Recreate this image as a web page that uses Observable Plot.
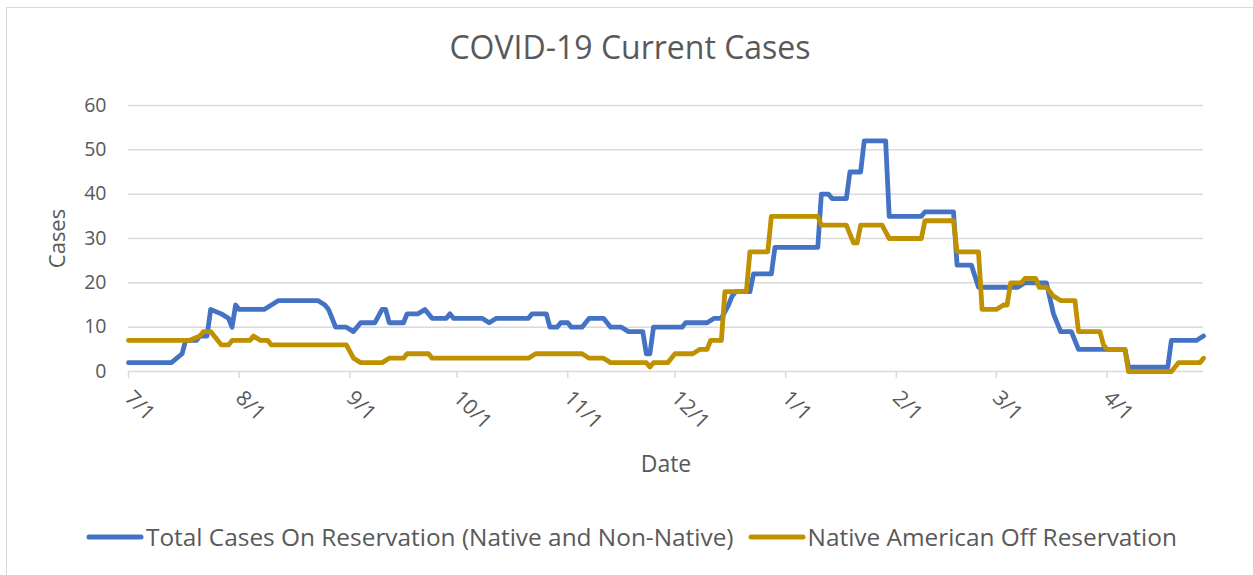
<!DOCTYPE html>
<html>
<head>
<meta charset="utf-8">
<script src="https://cdn.jsdelivr.net/npm/d3@7"></script>
<script src="https://cdn.jsdelivr.net/npm/@observablehq/plot@0.6"></script>
<style>
  body { margin: 0; background: #fff; font-family: "Open Sans", sans-serif; }
  #chart { position: relative; width: 1253px; height: 575px; overflow: hidden; background: #fff; }
  #frame { position: absolute; left: 6px; top: 7px; width: 1280px; height: 600px; border: 1.5px solid #d9d9d9; box-sizing: border-box; }
  #title { position: absolute; top: 31px; left: 0; width: 1260px; text-align: center; font-size: 32px; color: #595959; line-height: 1; }
  #plot { position: absolute; left: 0; top: 0; }
  #legend { position: absolute; top: 525px; left: 86px; display: flex; align-items: center; font-size: 24.4px; color: #595959; white-space: nowrap; line-height: 1; }
  #legend .item { display: flex; align-items: center; }
  #legend svg { margin-right: 2px; }
  #legend .gap { width: 14px; }
</style>
</head>
<body>
<div id="chart">
  <div id="frame"></div>
  <div id="plot"></div>
  <div id="title">COVID-19 Current Cases</div>
  <div id="legend"></div>
</div>
<script>
// ---- Data ----
const seriesNames = ["Total Cases On Reservation (Native and Non-Native)", "Native American Off Reservation"];
const seriesColors = ["#4472C4", "#BF9000"];

const onResDates = [
  "2020-07-01","2020-07-13","2020-07-16","2020-07-17","2020-07-20","2020-07-21","2020-07-23","2020-07-24",
  "2020-07-27","2020-07-29","2020-07-30","2020-07-31","2020-08-01","2020-08-08","2020-08-10","2020-08-12",
  "2020-08-23","2020-08-25","2020-08-26","2020-08-28","2020-08-31","2020-09-02","2020-09-04","2020-09-08",
  "2020-09-10","2020-09-11","2020-09-12","2020-09-16","2020-09-17","2020-09-20","2020-09-22","2020-09-24",
  "2020-09-28","2020-09-29","2020-09-30","2020-10-08","2020-10-10","2020-10-12","2020-10-21","2020-10-22",
  "2020-10-26","2020-10-27","2020-10-29","2020-10-30","2020-11-01","2020-11-02","2020-11-05","2020-11-07",
  "2020-11-11","2020-11-13","2020-11-16","2020-11-18","2020-11-22","2020-11-23","2020-11-24","2020-11-25",
  "2020-12-03","2020-12-04","2020-12-10","2020-12-12","2020-12-14","2020-12-16","2020-12-17","2020-12-18",
  "2020-12-22","2020-12-23","2020-12-28","2020-12-29","2021-01-10","2021-01-11","2021-01-13","2021-01-14",
  "2021-01-18","2021-01-19","2021-01-22","2021-01-23","2021-01-29","2021-01-30","2021-02-08","2021-02-09",
  "2021-02-17","2021-02-18","2021-02-22","2021-02-24","2021-03-07","2021-03-09","2021-03-15","2021-03-17",
  "2021-03-19","2021-03-22","2021-03-24","2021-04-06","2021-04-07","2021-04-18","2021-04-19","2021-04-26",
  "2021-04-28"
];
const onResValues = [
  2,2,4,7,7,8,8,14,
  13,12,10,15,14,14,15,16,
  16,15,14,10,10,9,11,11,
  14,14,11,11,13,13,14,12,
  12,13,12,12,11,12,12,13,
  13,10,10,11,11,10,10,12,
  12,10,10,9,9,4,4,10,
  10,11,11,12,12,15,17,18,
  18,22,22,28,28,40,40,39,
  39,45,45,52,52,35,35,36,
  36,24,24,19,19,20,20,13,
  9,9,5,5,1,1,7,7,
  8
];

const offResDates = [
  "2020-07-01","2020-07-18","2020-07-21","2020-07-22","2020-07-24","2020-07-27","2020-07-29","2020-07-30",
  "2020-08-04","2020-08-05","2020-08-07","2020-08-09","2020-08-10","2020-08-31","2020-09-02","2020-09-04",
  "2020-09-10","2020-09-12","2020-09-16","2020-09-17","2020-09-23","2020-09-24","2020-10-21","2020-10-23",
  "2020-11-05","2020-11-07","2020-11-11","2020-11-13","2020-11-23","2020-11-24","2020-11-25","2020-11-29",
  "2020-12-01","2020-12-06","2020-12-08","2020-12-10","2020-12-11","2020-12-14","2020-12-15","2020-12-21",
  "2020-12-22","2020-12-27","2020-12-28","2021-01-10","2021-01-11","2021-01-18","2021-01-20","2021-01-21",
  "2021-01-22","2021-01-28","2021-01-30","2021-02-08","2021-02-09","2021-02-17","2021-02-18","2021-02-24",
  "2021-02-25","2021-03-01","2021-03-03","2021-03-04","2021-03-05","2021-03-08","2021-03-09","2021-03-12",
  "2021-03-13","2021-03-15","2021-03-17","2021-03-19","2021-03-23","2021-03-24","2021-03-30","2021-03-31",
  "2021-04-01","2021-04-06","2021-04-07","2021-04-19","2021-04-21","2021-04-27","2021-04-28"
];
const offResValues = [
  7,7,8,9,9,6,6,7,
  7,8,7,7,6,6,3,2,
  2,3,3,4,4,3,3,4,
  4,3,3,2,2,1,2,2,
  4,4,5,5,7,7,18,18,
  27,27,35,35,33,33,29,29,
  33,33,30,30,34,34,27,27,
  14,14,15,15,20,20,21,21,
  19,19,17,16,16,9,9,6,
  5,5,0,0,2,2,3
];

const yTicks = [0, 10, 20, 30, 40, 50, 60];
const xTickDates = ["2020-07-01","2020-08-01","2020-09-01","2020-10-01","2020-11-01","2020-12-01","2021-01-01","2021-02-01","2021-03-01","2021-04-01"];
const xDomain = ["2020-07-01", "2021-04-28"];
const xLabel = "Date";
const yLabel = "Cases";

// ---- Build tables ----
const onRes = onResDates.map((d, i) => ({date: new Date(d), value: onResValues[i]}));
const offRes = offResDates.map((d, i) => ({date: new Date(d), value: offResValues[i]}));
const xTicks = xTickDates.map(d => new Date(d));

const gray = "#595959";
const gridGray = "#d9d9d9";

const chart = Plot.plot({
  width: 1253,
  height: 500,
  marginLeft: 128,
  marginRight: 50,
  marginTop: 105,
  marginBottom: 129,
  style: {fontFamily: "'Open Sans', sans-serif", fontSize: "19px", color: gray, background: "transparent", overflow: "visible"},
  x: {type: "utc", domain: xDomain.map(d => new Date(d))},
  y: {domain: [0, 60]},
  marks: [
    Plot.gridY(yTicks.filter(d => d > 0), {stroke: gridGray, strokeOpacity: 1, strokeWidth: 1.5}),
    Plot.ruleY([0], {stroke: gridGray, strokeWidth: 1.5}),
    Plot.axisY(yTicks, {tickSize: 0, tickPadding: 22, label: null, fill: gray, fontSize: 19.5}),
    Plot.axisX(xTicks, {tickSize: 7, stroke: gridGray, strokeWidth: 1.5, fill: gray, tickRotate: 45, tickPadding: 16, fontSize: 21, tickFormat: d3.utcFormat("%-m/%-d"), label: null}),
    Plot.text([yLabel], {frameAnchor: "left", textAnchor: "middle", rotate: -90, dx: -71, fill: gray, fontSize: 22}),
    Plot.text([xLabel], {frameAnchor: "bottom", dy: 100, fill: gray, fontSize: 23}),
    Plot.line(onRes, {x: "date", y: "value", stroke: seriesColors[0], strokeWidth: 4.8, strokeLinejoin: "round", strokeLinecap: "round"}),
    Plot.line(offRes, {x: "date", y: "value", stroke: seriesColors[1], strokeWidth: 4.8, strokeLinejoin: "round", strokeLinecap: "round"})
  ]
});
document.getElementById("plot").appendChild(chart);

// ---- Legend ----
const legend = document.getElementById("legend");
seriesNames.forEach((name, i) => {
  if (i > 0) { const g = document.createElement("div"); g.className = "gap"; legend.appendChild(g); }
  const item = document.createElement("div");
  item.className = "item";
  item.innerHTML = `<svg width="58" height="10"><line x1="3" y1="5" x2="55" y2="5" stroke="${seriesColors[i]}" stroke-width="5" stroke-linecap="round"/></svg><span>${name}</span>`;
  legend.appendChild(item);
});
</script>
</body>
</html>
